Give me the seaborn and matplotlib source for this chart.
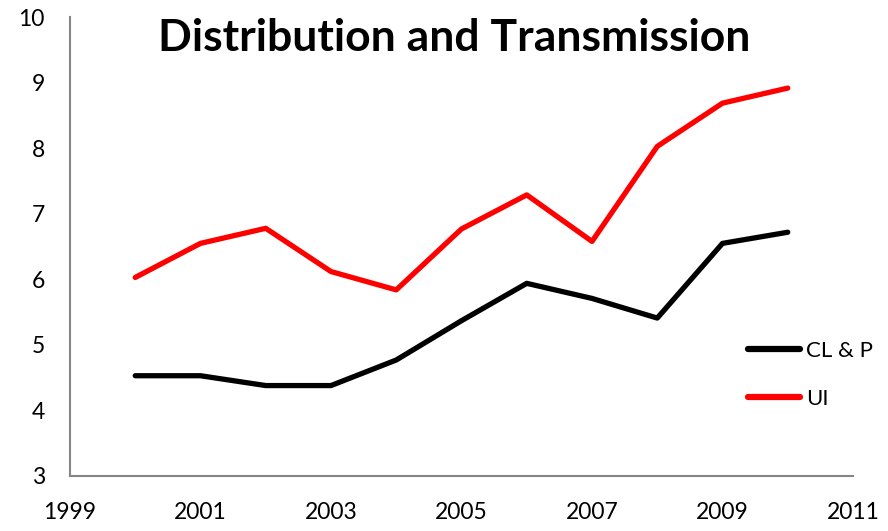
import matplotlib

matplotlib.use("Agg")
import matplotlib.pyplot as plt
import pandas as pd
import seaborn as sns

years = [2000, 2001, 2002, 2003, 2004, 2005, 2006, 2007, 2008, 2009, 2010]
clp = [4.53, 4.53, 4.38, 4.38, 4.77, 5.37, 5.94, 5.71, 5.41, 6.55, 6.72]
ui = [6.03, 6.55, 6.78, 6.12, 5.84, 6.77, 7.29, 6.58, 8.03, 8.69, 8.92]
series_names = ["CL & P", "UI"]
x_ticks = [1999, 2001, 2003, 2005, 2007, 2009, 2011]
y_ticks = [3, 4, 5, 6, 7, 8, 9, 10]


def main():
    df = pd.DataFrame({
        "year": years * 2,
        "value": clp + ui,
        "series": [series_names[0]] * len(years) + [series_names[1]] * len(years),
    })

    sns.set_style("white")
    plt.rcParams["font.family"] = ["Lato", "DejaVu Sans"]

    fig = plt.figure(figsize=(8.88, 5.31), dpi=100)
    ax = fig.add_axes([0.0788, 0.1036, 0.8818, 0.8638])
    sns.lineplot(data=df, x="year", y="value", hue="series",
                 palette={"CL & P": "black", "UI": "#ff0000"},
                 linewidth=3.8, ax=ax)

    ax.set_xlim(1999, 2011)
    ax.set_ylim(3, 10)
    ax.set_xticks(x_ticks)
    ax.set_yticks(y_ticks)
    ax.set_xlabel("")
    ax.set_ylabel("")
    for s in ["top", "right"]:
        ax.spines[s].set_visible(False)
    for s in ["left", "bottom"]:
        ax.spines[s].set_color("#868686")
        ax.spines[s].set_linewidth(1.5)
    ax.tick_params(axis="both", direction="out", length=6, width=1.5,
                   color="#868686", labelsize=16.5, labelcolor="black")
    ax.tick_params(axis="x", pad=13)
    ax.tick_params(axis="y", pad=12)

    ax.text(0.491, 0.955, "Distribution and Transmission", transform=ax.transAxes,
            ha="center", va="center", fontsize=32, fontweight="bold", color="black")

    leg = ax.legend(loc="center left", bbox_to_anchor=(0.866, 0.221), frameon=False,
                    fontsize=16, handlelength=2.35, handletextpad=0.25,
                    labelspacing=1.25, borderaxespad=0, borderpad=0)
    for line in leg.get_lines():
        line.set_linewidth(4.5)
    for t in leg.get_texts():
        t.set_color("black")

    fig.savefig("out.png", dpi=100)
    plt.close(fig)


if __name__ == "__main__":
    main()
